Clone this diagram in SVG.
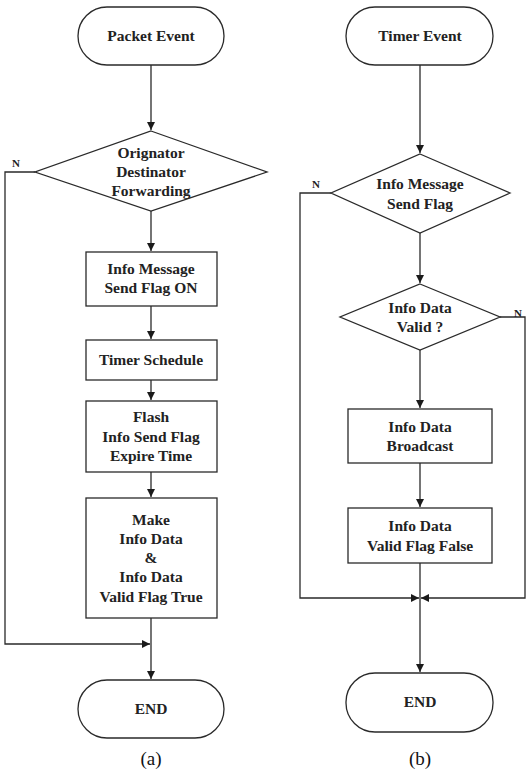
<svg xmlns="http://www.w3.org/2000/svg" width="526" height="771" viewBox="0 0 526 771">
<defs>
<marker id="ah" viewBox="0 0 10 10" refX="10" refY="5" markerWidth="8" markerHeight="8" markerUnits="userSpaceOnUse" orient="auto">
<path d="M0,0 L10,5 L0,10 z" fill="#1a1a1a"/>
</marker>
</defs>
<style>
.s{fill:#fff;stroke:#2a2a2a;stroke-width:1.3}
.t{font-family:"Liberation Serif","Times New Roman",serif;font-weight:bold;font-size:15.5px;fill:#222;text-anchor:middle}
.c{fill:none;stroke:#2a2a2a;stroke-width:1.3}
.l{font-family:"Liberation Serif","Times New Roman",serif;font-size:19px;fill:#111;text-anchor:middle}
.n{font-family:"Liberation Serif","Times New Roman",serif;font-weight:bold;font-size:11px;fill:#222;text-anchor:middle}
</style>
<rect width="526" height="771" fill="#fff"/>
<g id="connectors">
<path class="c" d="M151,65 V130" marker-end="url(#ah)"/>
<path class="c" d="M151,211 V251" marker-end="url(#ah)"/>
<path class="c" d="M151,306 V339" marker-end="url(#ah)"/>
<path class="c" d="M151,380 V400" marker-end="url(#ah)"/>
<path class="c" d="M151,472 V497" marker-end="url(#ah)"/>
<path class="c" d="M151,618 V679" marker-end="url(#ah)"/>
<path class="c" d="M35,172 H5 V644 H150" marker-end="url(#ah)"/>
<path class="c" d="M420,65 V153" marker-end="url(#ah)"/>
<path class="c" d="M420,233 V283" marker-end="url(#ah)"/>
<path class="c" d="M420,350 V408" marker-end="url(#ah)"/>
<path class="c" d="M420,463 V507" marker-end="url(#ah)"/>
<path class="c" d="M420,563 V672" marker-end="url(#ah)"/>
<path class="c" d="M331,193 H300 V598 H419" marker-end="url(#ah)"/>
<path class="c" d="M500,317 H525 V598 H421" marker-end="url(#ah)"/>
<text class="n" x="16" y="167">N</text>
<text class="n" x="316" y="188">N</text>
<text class="n" x="518" y="317">N</text>
</g>
<g id="packet-event"><rect class="s" x="78" y="7" width="146" height="58" rx="29"/><text class="t" x="151" y="41">Packet Event</text></g>
<g id="orig-diamond"><polygon class="s" points="151,131 267,172 151,211 35,172"/><text class="t" x="151" y="158">Orignator</text><text class="t" x="151" y="177">Destinator</text><text class="t" x="151" y="196">Forwarding</text></g>
<g id="info-msg-on"><rect class="s" x="86" y="252" width="131" height="54"/><text class="t" x="151" y="274">Info Message</text><text class="t" x="151" y="293">Send Flag ON</text></g>
<g id="timer-schedule"><rect class="s" x="86" y="340" width="131" height="40"/><text class="t" x="151" y="365">Timer Schedule</text></g>
<g id="flash"><rect class="s" x="86" y="401" width="131" height="71"/><text class="t" x="151" y="422">Flash</text><text class="t" x="151" y="442">Info Send Flag</text><text class="t" x="151" y="461">Expire Time</text></g>
<g id="make-info"><rect class="s" x="86" y="498" width="131" height="120"/><text class="t" x="151" y="525">Make</text><text class="t" x="151" y="544">Info Data</text><text class="t" x="151" y="563">&amp;</text><text class="t" x="151" y="582">Info Data</text><text class="t" x="151" y="602">Valid Flag True</text></g>
<g id="end-a"><rect class="s" x="78" y="680" width="146" height="58" rx="29"/><text class="t" x="151" y="714">END</text></g>
<g id="caption-a"><text class="l" x="151" y="765">(a)</text></g>
<g id="timer-event"><rect class="s" x="346" y="7" width="147" height="58" rx="29"/><text class="t" x="420" y="41">Timer Event</text></g>
<g id="send-flag-diamond"><polygon class="s" points="420,154 510,193 420,233 331,193"/><text class="t" x="420" y="189">Info Message</text><text class="t" x="420" y="209">Send Flag</text></g>
<g id="valid-diamond"><polygon class="s" points="420,284 500,317 420,350 340,317"/><text class="t" x="420" y="313">Info Data</text><text class="t" x="420" y="332">Valid ?</text></g>
<g id="broadcast"><rect class="s" x="348" y="409" width="144" height="54"/><text class="t" x="420" y="432">Info Data</text><text class="t" x="420" y="451">Broadcast</text></g>
<g id="valid-false"><rect class="s" x="348" y="508" width="144" height="55"/><text class="t" x="420" y="531">Info Data</text><text class="t" x="420" y="551">Valid Flag False</text></g>
<g id="end-b"><rect class="s" x="346" y="673" width="147" height="59" rx="29"/><text class="t" x="420" y="707">END</text></g>
<g id="caption-b"><text class="l" x="420" y="765">(b)</text></g>
</svg>
